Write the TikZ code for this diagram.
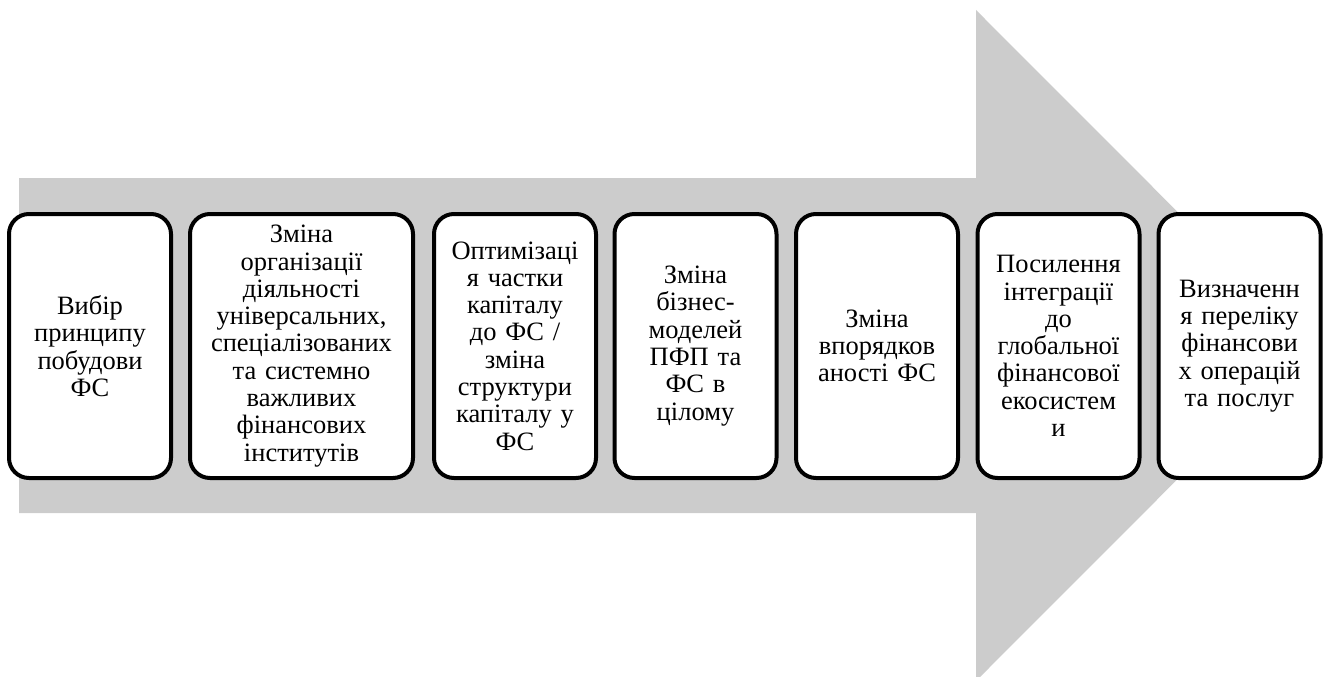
\documentclass[tikz,border=0pt]{standalone}
\usepackage{fontspec}
\setmainfont{Liberation Serif}
\begin{document}
\begin{tikzpicture}[x=1pt,y=-1pt,
  stepbox/.style={draw=black,line width=4pt,rounded corners=20pt,fill=white,
    minimum height=264pt,inner sep=0pt,align=center,
    font=\fontsize{26.5}{27.3}\selectfont},
  narrow/.style={stepbox,minimum width=162pt,text width=162pt},
  wide/.style={stepbox,minimum width=223pt,text width=223pt}]
\useasboundingbox (0,0) rectangle (1325,677);
\begin{scope}
\clip (0,0) rectangle (1325,677);
\fill[black!20] (19,178) -- (976,178) -- (976,10) -- (1311,345.5) -- (976,681) -- (976,513) -- (19,513) -- cycle;
\end{scope}
\node[narrow] (b1) at (90,346) {Вибір\\принципу\\побудови\\ФС};
\node[wide] (b2) at (301.5,346) {Зміна\\організації\\діяльності\\універсальних,\\спеціалізованих\\та системно\\важливих\\фінансових\\інститутів};
\node[narrow] (b3) at (515,346) {Оптимізаці\\я частки\\капіталу\\до ФС /\\зміна\\структури\\капіталу у\\ФС};
\node[narrow] (b4) at (695.5,346) {Зміна\\бізнес-\\моделей\\ПФП та\\ФС в\\цілому};
\node[narrow] (b5) at (877,346) {Зміна\\впорядков\\аності ФС};
\node[narrow] (b6) at (1058.5,346) {Посилення\\інтеграції\\до\\глобальної\\фінансової\\екосистем\\и};
\node[narrow] (b7) at (1239.5,346) {Визначенн\\я переліку\\фінансови\\х операцій\\та послуг};
\end{tikzpicture}
\end{document}
